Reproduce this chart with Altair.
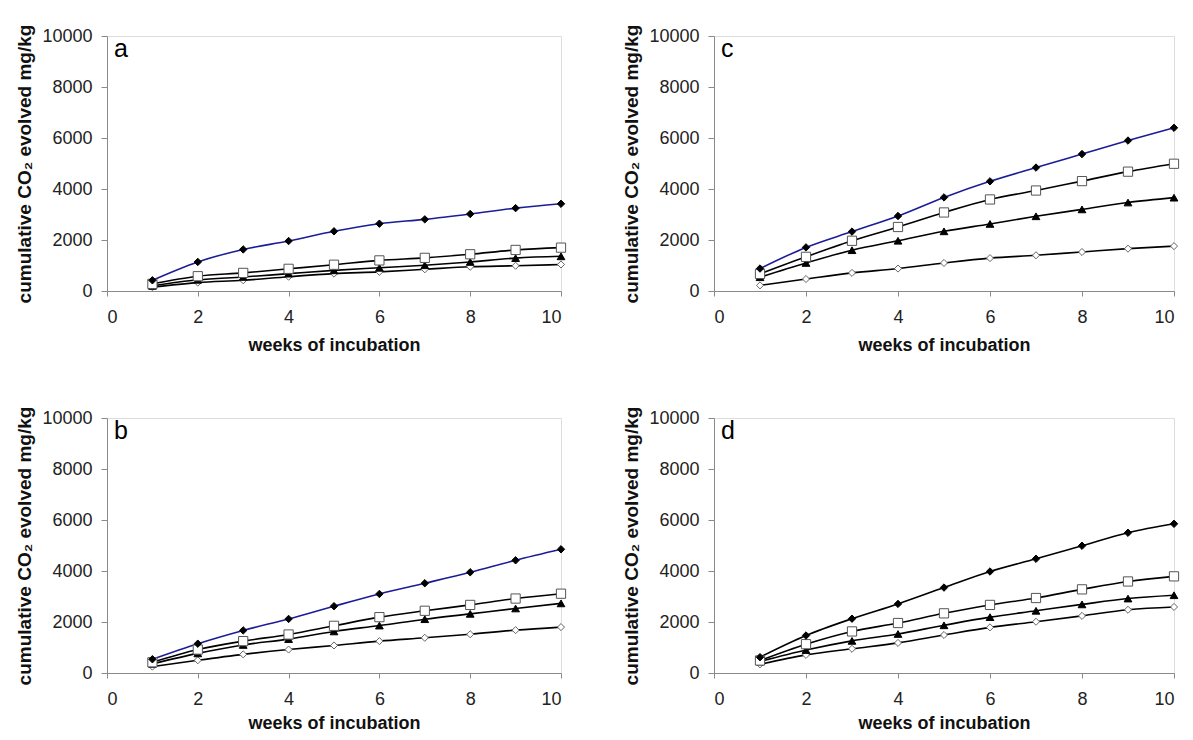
import altair as alt
import pandas as pd

weeks = [1, 2, 3, 4, 5, 6, 7, 8, 9, 10]
x_ticks = [0, 2, 4, 6, 8, 10]
y_ticks = [0, 2000, 4000, 6000, 8000, 10000]

# panel a
a_filled_diamond = [420, 1140, 1630, 1960, 2340, 2640, 2810, 3020, 3250, 3420]
a_open_square = [280, 580, 710, 870, 1030, 1200, 1300, 1440, 1610, 1700]
a_filled_triangle = [200, 440, 550, 680, 810, 910, 1010, 1140, 1290, 1360]
a_open_diamond = [150, 330, 420, 560, 680, 750, 850, 950, 990, 1040]

# panel b
b_filled_diamond = [540, 1150, 1670, 2120, 2620, 3100, 3520, 3950, 4420, 4850]
b_open_square = [420, 920, 1250, 1510, 1850, 2190, 2440, 2670, 2920, 3110]
b_filled_triangle = [360, 770, 1100, 1330, 1630, 1860, 2110, 2320, 2530, 2730]
b_open_diamond = [250, 500, 730, 920, 1080, 1250, 1380, 1520, 1680, 1800]

# panel c
c_filled_diamond = [880, 1710, 2330, 2940, 3670, 4300, 4840, 5370, 5900, 6400]
c_open_square = [670, 1340, 1970, 2510, 3080, 3590, 3940, 4310, 4680, 4990]
c_filled_triangle = [540, 1100, 1600, 1970, 2340, 2630, 2930, 3200, 3470, 3660]
c_open_diamond = [220, 470, 710, 880, 1100, 1290, 1400, 1530, 1660, 1760]

# panel d
d_filled_diamond = [620, 1470, 2130, 2710, 3350, 3980, 4480, 4990, 5500, 5850]
d_open_square = [490, 1130, 1630, 1960, 2340, 2670, 2940, 3280, 3590, 3790]
d_filled_triangle = [450, 900, 1260, 1530, 1870, 2190, 2440, 2690, 2920, 3050]
d_open_diamond = [340, 710, 950, 1180, 1490, 1790, 2010, 2240, 2480, 2590]

panels = {
    "a": [a_filled_diamond, a_open_square, a_filled_triangle, a_open_diamond],
    "b": [b_filled_diamond, b_open_square, b_filled_triangle, b_open_diamond],
    "c": [c_filled_diamond, c_open_square, c_filled_triangle, c_open_diamond],
    "d": [d_filled_diamond, d_open_square, d_filled_triangle, d_open_diamond],
}
first_line_color = {"a": "#1c1c96", "b": "#1c1c96", "c": "#1c1c96", "d": "#000000"}

# series styles: (shape, fill, stroke, size)
styles = [
    ("diamond", "#000000", "#000000", 55),
    ("square", "#ffffff", "#555555", 85),
    ("triangle-up", "#000000", "#000000", 60),
    ("diamond", "#ffffff", "#666666", 50),
]

AXIS_GREY = "#8a8a8a"
FONT = "Liberation Sans"


def make_panel(letter, width, x_title_pad, height=255):
    series = panels[letter]
    x_enc = alt.X(
        "week:Q",
        scale=alt.Scale(domain=[0, 10], nice=False),
        axis=alt.Axis(values=x_ticks, title="weeks of incubation", grid=False,
                      domainColor=AXIS_GREY, tickColor=AXIS_GREY, tickSize=5,
                      labelFontSize=18, labelPadding=12, labelColor="#222222",
                      labelFont=FONT,
                      titleFontSize=18, titleFontWeight="bold", titlePadding=x_title_pad,
                      titleFont=FONT, titleColor="#111111"),
    )
    y_enc = alt.Y(
        "value:Q",
        scale=alt.Scale(domain=[0, 10000], nice=False),
        axis=alt.Axis(values=y_ticks, format="d", title="cumulative CO₂ evolved mg/kg",
                      grid=False,
                      domainColor=AXIS_GREY, tickColor=AXIS_GREY, tickSize=6,
                      labelFontSize=18, labelPadding=9, labelColor="#222222",
                      labelFont=FONT,
                      titleFontSize=19, titleFontWeight="bold", titlePadding=7,
                      titleFont=FONT, titleColor="#111111"),
    )
    lines = []
    points = []
    for i, vals in enumerate(series):
        df = pd.DataFrame({"week": weeks, "value": vals})
        color = first_line_color[letter] if i == 0 else "#000000"
        lines.append(
            alt.Chart(df).mark_line(color=color, strokeWidth=1.6, interpolate="monotone")
            .encode(x=x_enc, y=y_enc)
        )
        shape, fill, stroke, size = styles[i]
        points.append(
            alt.Chart(df).mark_point(shape=shape, filled=True, fill=fill, stroke=stroke,
                                     strokeWidth=1, size=size, opacity=1)
            .encode(x=x_enc, y=y_enc)
        )
    layers = lines[::-1] + points[::-1]
    label = alt.Chart(pd.DataFrame({"t": [letter]})).mark_text(
        align="left", baseline="top", fontSize=25, font=FONT, color="#000000"
    ).encode(text="t:N", x=alt.value(7), y=alt.value(1))
    layers.append(label)
    return alt.layer(*layers).properties(width=width, height=height)


top = alt.hconcat(make_panel("a", 454, 10), make_panel("c", 460, 10), spacing=53)
bottom = alt.hconcat(make_panel("b", 454, 6), make_panel("d", 460, 6), spacing=53)
chart = alt.vconcat(top, bottom, spacing=50).properties(
    padding={"left": 15, "top": 23, "right": 5, "bottom": 0}
).configure_view(stroke=None).configure(font=FONT)

chart.save("out.html", embed_options={"renderer": "svg", "actions": False})
